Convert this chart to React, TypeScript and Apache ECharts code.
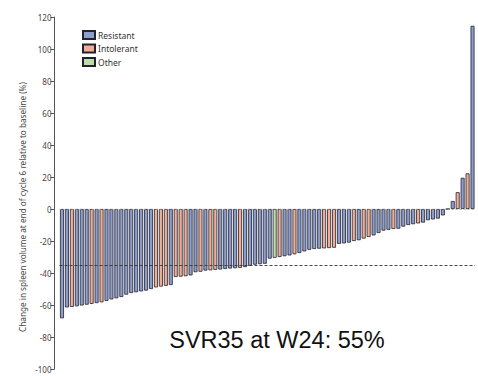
import React, { useEffect, useRef } from "react";
import * as echarts from "echarts";

// Change in spleen volume (%) per patient, sorted (waterfall)
const changeValues: number[] = [
  -68.3, -61.5, -61.2, -60.8, -60.3, -59.8, -59.3, -58.8, -58.3, -57.5,
  -56.5, -55.8, -55.0, -53.5, -52.5, -52.0, -51.5, -51.0, -50.0, -49.0,
  -48.5, -48.0, -47.5, -42.5, -42.3, -42.0, -41.5, -39.5, -39.2, -38.5,
  -38.3, -38.0, -37.8, -37.5, -37.2, -37.0, -36.8, -36.3, -35.5, -34.8,
  -34.5, -34.2, -31.0, -30.5, -30.0, -29.5, -29.0, -28.3, -27.5, -26.5,
  -25.5, -25.0, -24.8, -24.6, -24.4, -24.2, -21.8, -21.5, -21.0, -20.0,
  -19.5, -18.5, -17.5, -16.5, -15.0, -13.5, -13.0, -12.5, -12.3, -11.0,
  -10.0, -9.5, -9.0, -8.5, -7.0, -6.5, -6.0, -4.0, 0, 5.0,
  10.5, 19.5, 22.3, 114.5,
];

// R = Resistant, I = Intolerant, O = Other
const groupCodes: string[] = [
  "R", "R", "I", "R", "R", "R", "I", "R", "I", "R",
  "R", "R", "R", "R", "R", "R", "R", "R", "R", "I",
  "I", "I", "R", "I", "I", "I", "R", "R", "I", "R",
  "I", "I", "R", "R", "R", "R", "I", "R", "R", "R",
  "R", "R", "R", "O", "I", "R", "R", "I", "R", "R",
  "R", "R", "R", "I", "I", "I", "R", "R", "R", "I",
  "R", "I", "I", "R", "R", "R", "R", "I", "R", "R",
  "R", "R", "I", "R", "R", "R", "R", "R", "R", "R",
  "I", "R", "I", "R",
];

const patients: string[] = changeValues.map((_, i) => `Patient ${i + 1}`);

const groupNames: string[] = ["Resistant", "Intolerant", "Other"];
const groupKeys: string[] = ["R", "I", "O"];
const groupColors: string[] = ["#8d9ecc", "#f0ae94", "#bcdcaa"];

const yTicks: number[] = [-100, -80, -60, -40, -20, 0, 20, 40, 60, 80, 100, 120];
const svrThreshold = -35;
const subtitle = "SVR35 at W24: 55%";
const yAxisTitle = "Change in spleen volume at end of cycle 6 relative to baseline (%)";

export default function App() {
  const ref = useRef<HTMLDivElement>(null);

  useEffect(() => {
    if (!ref.current) return;
    const chart = echarts.init(ref.current, undefined, { renderer: "svg" });

    const series: any[] = groupKeys.map((g, gi) => ({
      name: groupNames[gi],
      type: "bar",
      barWidth: "80%",
      barGap: "-100%",
      data: changeValues.map((v, i) => (groupCodes[i] === g ? v : "-")),
      itemStyle: {
        color: groupColors[gi],
        borderColor: "#22222e",
        borderWidth: 0.8,
      },
      markLine:
        gi === 0
          ? {
              silent: true,
              symbol: "none",
              label: { show: false },
              data: [
                {
                  yAxis: svrThreshold,
                  lineStyle: { color: "#333", type: [3, 2], width: 0.9 },
                },
                {
                  yAxis: 0,
                  lineStyle: { color: "#999", type: [2, 2], width: 0.7 },
                },
              ],
            }
          : undefined,
    }));

    chart.setOption({
      animation: false,
      backgroundColor: "#ffffff",
      legend: {
        orient: "vertical",
        left: 77,
        top: 25,
        itemWidth: 12,
        itemHeight: 8,
        itemGap: 3.5,
        icon: "rect",
        data: groupNames,
        textStyle: { fontSize: 8.5, color: "#333", fontFamily: "Noto Sans", padding: [0, 0, 0, -2] },
      },
      grid: { left: 59.5, right: 3, top: 17, height: 352, containLabel: false },
      xAxis: {
        type: "category",
        data: patients,
        axisLine: { show: false },
        axisTick: { show: false },
        axisLabel: { show: false },
        splitLine: { show: false },
      },
      yAxis: {
        type: "value",
        min: yTicks[0],
        max: yTicks[yTicks.length - 1],
        interval: 20,
        offset: 5,
        axisLine: { show: true, lineStyle: { color: "#555", width: 1 } },
        axisTick: { show: true, length: 4, lineStyle: { color: "#555" } },
        axisLabel: {
          fontSize: 8,
          color: "#444",
          margin: 3,
          fontFamily: "Noto Sans",
        },
        splitLine: { show: false },
      },
      graphic: [
        {
          type: "text",
          x: 22,
          y: 207,
          rotation: Math.PI / 2,
          style: {
            text: yAxisTitle,
            fontSize: 8.2,
            fill: "#444",
            fontFamily: "Noto Sans",
            textAlign: "center",
            textVerticalAlign: "middle",
          },
        },
        {
          type: "text",
          x: 277,
          y: 340,
          style: {
            text: subtitle,
            fontSize: 23.5,
            fill: "#111",
            fontFamily: "Liberation Sans",
            textAlign: "center",
            textVerticalAlign: "middle",
          },
        },
      ],
      series,
    });

    return () => chart.dispose();
  }, []);

  return (
    <div
      ref={ref}
      style={{ position: "fixed", left: 0, top: 0, width: 478, height: 376 }}
    />
  );
}
